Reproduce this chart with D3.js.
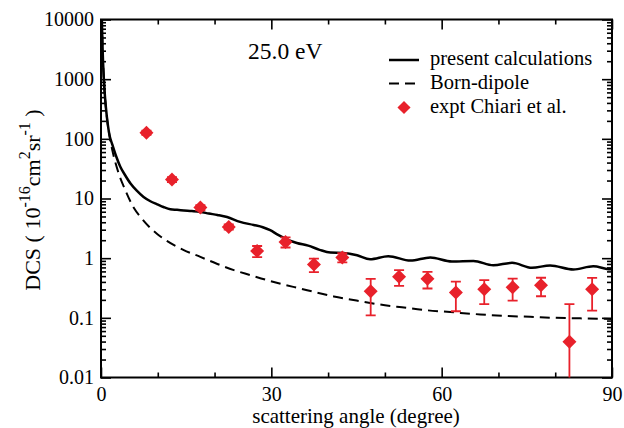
<!DOCTYPE html>
<html>
<head>
<meta charset="utf-8">
<script src="https://cdn.jsdelivr.net/npm/d3@7"></script>
<style>
  html, body { margin: 0; padding: 0; background: #fff; }
  svg { display: block; }
  text { font-family: 'Liberation Serif', 'Times New Roman', Times, serif; fill: #000; }
</style>
</head>
<body>
<svg id="chart" width="624" height="428"></svg>
<script>
// ---------- data ----------
const xTickValues = [0, 30, 60, 90];
const xMinorTicks = [10, 20, 40, 50, 70, 80];
const yTickValues = [0.01, 0.1, 1, 10, 100, 1000, 10000];
const yTickLabels = ["0.01", "0.1", "1", "10", "100", "1000", "10000"];

// present calculations (solid)
const calcAngle = [0.15, 0.25, 0.5, 0.75, 1.0, 1.5, 2.0, 2.7, 3.4, 4.2, 5.2, 6.3, 7.5, 8.7, 9.9, 11, 12.2, 13.4, 14.6, 16, 17.5, 19, 20.5, 22.2, 24.5, 26.9, 28.5, 29.8, 31.2, 32.8, 34.5, 36.5, 38.5, 40.4, 42.7, 45.1, 47.4, 50.6, 54.5, 58, 61.8, 65.6, 69.1, 72.4, 75.9, 79.1, 83.2, 86.7, 89.4, 90];
const calcDCS   = [10000, 4000, 1000, 445, 250, 115, 80, 50, 34, 25, 17.8, 13.5, 10.6, 9.0, 8.0, 7.2, 6.6, 6.45, 6.3, 6.15, 5.95, 5.6, 5.3, 4.9, 4.05, 3.6, 3.3, 2.94, 2.45, 2.05, 1.8, 1.62, 1.38, 1.24, 1.22, 1.12, 0.96, 1.08, 0.91, 1.03, 0.88, 0.90, 0.76, 0.835, 0.69, 0.755, 0.647, 0.73, 0.655, 0.65];

// Born-dipole (dashed)
const bornAngle = [0.15, 0.25, 0.5, 1, 1.5, 2, 3, 4.3, 5.8, 7.2, 8.7, 10, 11.6, 14.5, 17.5, 20.5, 23.4, 26.3, 29.2, 32, 35.1, 38, 41, 45, 49, 53, 57, 61.5, 66.8, 71, 75.6, 80, 84.4, 90];
const bornDCS   = [10000, 4000, 1000, 250, 112, 64, 28.5, 13.7, 6.9, 4.6, 3.2, 2.5, 1.95, 1.38, 1.05, 0.8, 0.63, 0.52, 0.43, 0.365, 0.31, 0.265, 0.228, 0.195, 0.168, 0.15, 0.135, 0.125, 0.114, 0.108, 0.104, 0.1, 0.098, 0.096];

// expt Chiari et al.
const exptAngle = [8, 12.5, 17.5, 22.5, 27.5, 32.5, 37.5, 42.5, 47.5, 52.5, 57.5, 62.5, 67.5, 72.5, 77.5, 82.5, 86.5];
const exptDCS   = [127, 20.8, 7.06, 3.34, 1.32, 1.87, 0.785, 1.03, 0.28, 0.487, 0.45, 0.267, 0.30, 0.324, 0.35, 0.0397, 0.30];
const exptErr   = [10, 2, 0.7, 0.33, 0.28, 0.36, 0.2, 0.18, 0.17, 0.145, 0.14, 0.138, 0.13, 0.13, 0.12, 0.13, 0.168];

const energyLabel = "25.0 eV";
const legendLabels = ["present calculations", "Born-dipole", "expt Chiari et al."];

// ---------- layout ----------
const L = 101, R = 612, T = 19.5, B = 377.5;
const RED = "#e8212b";
const FONT = 20;

const svg = d3.select("#chart");

const x = d3.scaleLinear().domain([0, 90]).range([L, R]);
const y = d3.scaleLog().domain([0.01, 10000]).range([B, T]);

const yMinor = [];
for (let e = -2; e < 4; e++) for (let m = 2; m <= 9; m++) yMinor.push(m * Math.pow(10, e));

svg.append("defs").append("clipPath").attr("id", "plotclip")
  .append("rect").attr("x", L).attr("y", T).attr("width", R - L).attr("height", B - T);

// ---------- axes ----------
function styleAxis(g) {
  g.select(".domain").remove();
  g.selectAll(".tick line").attr("stroke", "#000").attr("stroke-width", 1.6);
  g.selectAll(".tick text").style("font-size", FONT + "px").attr("fill", "#000").attr("font-family", null);
}

// bottom
svg.append("g").attr("transform", `translate(0,${B})`)
  .call(d3.axisBottom(x).tickValues(xTickValues).tickSize(-10).tickPadding(9).tickFormat(d3.format("d")))
  .call(styleAxis);
svg.append("g").attr("transform", `translate(0,${B})`)
  .call(d3.axisBottom(x).tickValues(xMinorTicks).tickSize(-5).tickFormat(""))
  .call(styleAxis);
// top
svg.append("g").attr("transform", `translate(0,${T})`)
  .call(d3.axisTop(x).tickValues(xTickValues).tickSize(-10).tickFormat(""))
  .call(styleAxis);
svg.append("g").attr("transform", `translate(0,${T})`)
  .call(d3.axisTop(x).tickValues(xMinorTicks).tickSize(-5).tickFormat(""))
  .call(styleAxis);
// left
svg.append("g").attr("transform", `translate(${L},0)`)
  .call(d3.axisLeft(y).tickValues(yTickValues).tickSize(-10).tickPadding(7)
    .tickFormat((d, i) => yTickLabels[i]))
  .call(styleAxis);
svg.append("g").attr("transform", `translate(${L},0)`)
  .call(d3.axisLeft(y).tickValues(yMinor).tickSize(-5).tickFormat(""))
  .call(styleAxis);
// right
svg.append("g").attr("transform", `translate(${R},0)`)
  .call(d3.axisRight(y).tickValues(yTickValues).tickSize(-10).tickFormat(""))
  .call(styleAxis);
svg.append("g").attr("transform", `translate(${R},0)`)
  .call(d3.axisRight(y).tickValues(yMinor).tickSize(-5).tickFormat(""))
  .call(styleAxis);

// frame
svg.append("rect").attr("x", L).attr("y", T).attr("width", R - L).attr("height", B - T)
  .attr("fill", "none").attr("stroke", "#000").attr("stroke-width", 2);

// ---------- curves ----------
const plot = svg.append("g").attr("clip-path", "url(#plotclip)");

const line = d3.line().x(d => x(d[0])).y(d => y(d[1])).curve(d3.curveMonotoneX);

plot.append("path")
  .datum(bornAngle.map((a, i) => [a, bornDCS[i]]))
  .attr("d", line).attr("fill", "none").attr("stroke", "#000")
  .attr("stroke-width", 2).attr("stroke-dasharray", "10,6");

plot.append("path")
  .datum(calcAngle.map((a, i) => [a, calcDCS[i]]))
  .attr("d", line).attr("fill", "none").attr("stroke", "#000")
  .attr("stroke-width", 2.5);

// ---------- experiment ----------
const expt = exptAngle.map((a, i) => ({ a, v: exptDCS[i], e: exptErr[i] }));
const capW = 5;
const eb = plot.append("g").attr("stroke", RED).attr("stroke-width", 1.8);
expt.forEach(d => {
  const hi = y(d.v + d.e);
  const lo = d.v - d.e > 0 ? y(d.v - d.e) : B + 5;
  const cx = x(d.a);
  eb.append("line").attr("x1", cx).attr("x2", cx).attr("y1", hi).attr("y2", lo);
  eb.append("line").attr("x1", cx - capW).attr("x2", cx + capW).attr("y1", hi).attr("y2", hi);
  if (d.v - d.e > 0)
    eb.append("line").attr("x1", cx - capW).attr("x2", cx + capW).attr("y1", lo).attr("y2", lo);
});

const diamond = d3.symbol().type(d3.symbolSquare).size(98);
plot.selectAll("path.pt").data(expt).enter().append("path").attr("class", "pt")
  .attr("d", diamond)
  .attr("transform", d => `translate(${x(d.a)},${y(d.v)}) rotate(45)`)
  .attr("fill", RED);

// ---------- labels ----------
svg.append("text").attr("x", 356).attr("y", 423).attr("text-anchor", "middle")
  .style("font-size", "21px").text("scattering angle (degree)");

const yt = svg.append("text")
  .attr("transform", `translate(40,200) rotate(-90)`)
  .attr("text-anchor", "middle").style("font-size", "22px");
yt.append("tspan").text("DCS ( 10");
yt.append("tspan").attr("dy", -10).style("font-size", "16px").text("-16");
yt.append("tspan").attr("dy", 10).text("cm");
yt.append("tspan").attr("dy", -10).style("font-size", "16px").text("2");
yt.append("tspan").attr("dy", 10).text("sr");
yt.append("tspan").attr("dy", -10).style("font-size", "16px").text("-1");
yt.append("tspan").attr("dy", 10).text(" )");

svg.append("text").attr("x", 248).attr("y", 58.5).style("font-size", "23.5px").text(energyLabel);

// legend
const lg = svg.append("g");
const lgX1 = 389, lgX2 = 419, txtX = 430;
const rowY = [60, 83.5, 107.5];
lg.append("line").attr("x1", lgX1).attr("x2", lgX2).attr("y1", rowY[0]).attr("y2", rowY[0])
  .attr("stroke", "#000").attr("stroke-width", 2.5);
lg.append("line").attr("x1", lgX1).attr("x2", lgX2).attr("y1", rowY[1]).attr("y2", rowY[1])
  .attr("stroke", "#000").attr("stroke-width", 2).attr("stroke-dasharray", "10,6");
lg.append("path").attr("d", d3.symbol().type(d3.symbolSquare).size(86))
  .attr("transform", `translate(404,${rowY[2]}) rotate(45)`).attr("fill", RED);
legendLabels.forEach((t, i) => {
  lg.append("text").attr("x", txtX).attr("y", rowY[i] + 5).style("font-size", "20.5px").text(t);
});
</script>
</body>
</html>
